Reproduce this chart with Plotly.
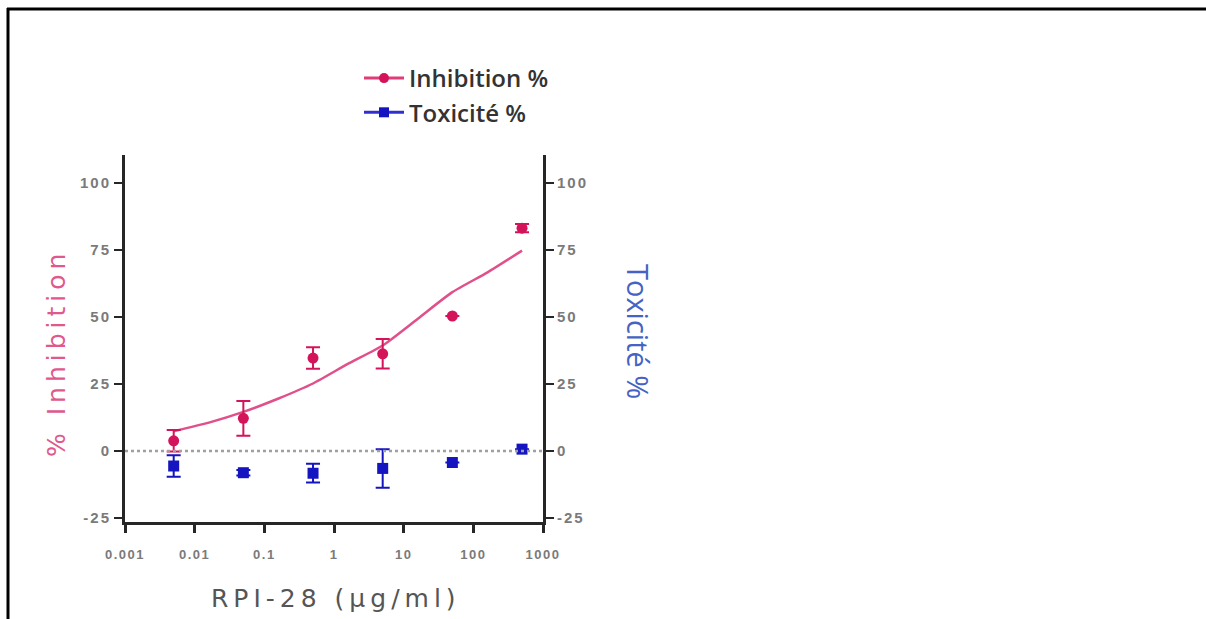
import plotly.graph_objects as go

# ---- data ----
conc = [0.005, 0.05, 0.5, 5, 50, 500]
inhibition = [3.8, 12.2, 34.7, 36.3, 50.4, 83.2]
inhibition_err = [4.0, 6.5, 4.0, 5.5, None, 1.5]
toxicity = [-5.6, -8.1, -8.3, -6.5, -4.3, 0.7]
toxicity_err = [4.0, 1.0, 3.5, 7.2, None, None]

fit_x = [0.005, 0.016, 0.05, 0.16, 0.5, 1.6, 5, 16, 50, 160, 500]
fit_y = [7.4, 10.6, 14.6, 19.6, 25.2, 32.6, 39.4, 49.4, 59.3, 66.7, 74.8]

x_ticks = [0.001, 0.01, 0.1, 1, 10, 100, 1000]
x_ticktext = ["0.001", "0.01", "0.1", "1", "10", "100", "1000"]
y_ticks = [-25, 0, 25, 50, 75, 100]
y_ticktext = ["-25", "0", "25", "50", "75", "100"]

PINK = "#d4145a"
PINK_LINE = "#e0508a"
BLUE = "#1414c0"
AXIS = "#262626"
YTICKFONT = dict(family="Liberation Sans, Arial, sans-serif", size=15, color="#7a7a7a", weight="bold")
XTICKFONT = dict(family="Liberation Sans, Arial, sans-serif", size=13, color="#7a7a7a", weight="bold")


def spaced(labels, px_):
    return ['<span style="letter-spacing:%spx">%s</span>' % (px_, t) for t in labels]


fig = go.Figure()

fig.add_trace(go.Scatter(
    x=fit_x, y=fit_y, mode="lines",
    line=dict(color=PINK_LINE, width=2.5, shape="spline", smoothing=0.6),
    showlegend=False, hoverinfo="skip"))

fig.add_trace(go.Scatter(
    x=conc, y=inhibition, mode="markers", name="Inhibition %", showlegend=False,
    marker=dict(symbol="circle", size=11, color=PINK),
    error_y=dict(type="data", array=inhibition_err, color=PINK, thickness=2, width=7)))

fig.add_trace(go.Scatter(
    x=conc, y=toxicity, mode="markers", name="Toxicité %", showlegend=False,
    marker=dict(symbol="square", size=11, color=BLUE),
    error_y=dict(type="data", array=toxicity_err, color=BLUE, thickness=2, width=7),
    yaxis="y2"))

# legend entries (line + marker look as in the reference)
fig.add_trace(go.Scatter(x=[None], y=[None], mode="lines+markers", name="Inhibition %",
                         line=dict(color="#e03c78", width=3),
                         marker=dict(symbol="circle", size=10, color=PINK), legendgroup="a"))
fig.add_trace(go.Scatter(x=[None], y=[None], mode="lines+markers", name="Toxicité %",
                         line=dict(color="#3030d0", width=3),
                         marker=dict(symbol="square", size=10, color=BLUE), legendgroup="b"))

W, H = 1206, 619
L, R, T, B = 125, 543, 155, 522


def px(xp):
    return (xp - L) / (R - L)


def py(yp):
    return (B - yp) / (B - T)


fig.update_layout(
    width=W, height=H,
    margin=dict(l=L, r=W - R, t=T, b=H - B, pad=0),
    paper_bgcolor="white", plot_bgcolor="white",
    showlegend=True,
    legend=dict(x=px(359), y=py(56), xanchor="left", yanchor="top",
                font=dict(family="Open Sans, sans-serif", size=24, color="#333333", weight=600),
                tracegroupgap=0, traceorder="grouped", itemwidth=40,
                bgcolor="rgba(0,0,0,0)"),
    xaxis=dict(type="log", range=[-3, 3], tickvals=x_ticks, ticktext=spaced(x_ticktext, 1.5),
               showgrid=False, zeroline=False, showline=True, linecolor=AXIS, linewidth=3,
               ticks="outside", ticklen=8, tickwidth=3, tickcolor=AXIS, tickfont=XTICKFONT,
               ticklabelstandoff=10),
    yaxis=dict(range=[-26.5, 110.5], tickvals=y_ticks, ticktext=spaced(y_ticktext, 2),
               showgrid=False, zeroline=False,
               showline=True, linecolor=AXIS, linewidth=3, ticks="outside", ticklen=8,
               tickwidth=2, tickcolor=AXIS, tickfont=YTICKFONT),
    yaxis2=dict(range=[-26.5, 110.5], tickvals=y_ticks, ticktext=spaced(y_ticktext, 2),
                overlaying="y", side="right",
                showgrid=False, zeroline=False, showline=True, linecolor=AXIS, linewidth=3,
                ticks="outside", ticklen=8, tickwidth=2, tickcolor=AXIS, tickfont=YTICKFONT),
)

# dotted zero line
fig.add_shape(type="line", xref="paper", yref="y", x0=0, x1=1, y0=0, y1=0,
              line=dict(color="#a0a0a0", width=2.5, dash="dot"))

# frame around the image (top and left edges)
fig.add_shape(type="line", xref="paper", yref="paper", x0=px(7), x1=px(1210), y0=py(9), y1=py(9),
              line=dict(color="black", width=3))
fig.add_shape(type="line", xref="paper", yref="paper", x0=px(8), x1=px(8), y0=py(8), y1=py(625),
              line=dict(color="black", width=3))

# axis titles
fig.add_annotation(text='<span style="letter-spacing:5px">RPI-28 (µg/ml)</span>',
                   xref="paper", yref="paper", x=px(336), y=py(598),
                   xanchor="center", yanchor="middle",
                   showarrow=False, font=dict(family="DejaVu Sans, sans-serif", size=25, color="#555555"))
fig.add_annotation(text='<span style="letter-spacing:5px">% Inhibition</span>',
                   xref="paper", yref="paper", x=px(56), y=py(353),
                   xanchor="center", yanchor="middle",
                   textangle=-90, showarrow=False,
                   font=dict(family="DejaVu Sans, sans-serif", size=25, color="#e0588c"))
fig.add_annotation(text="Toxicité %", xref="paper", yref="paper", x=px(639), y=py(331),
                   xanchor="center", yanchor="middle",
                   textangle=90, showarrow=False,
                   font=dict(family="Open Sans, sans-serif", size=29, color="#4463c4"))

fig.write_html("out.html", config={"displayModeBar": False},
               post_script="document.body.style.margin='0px';")
